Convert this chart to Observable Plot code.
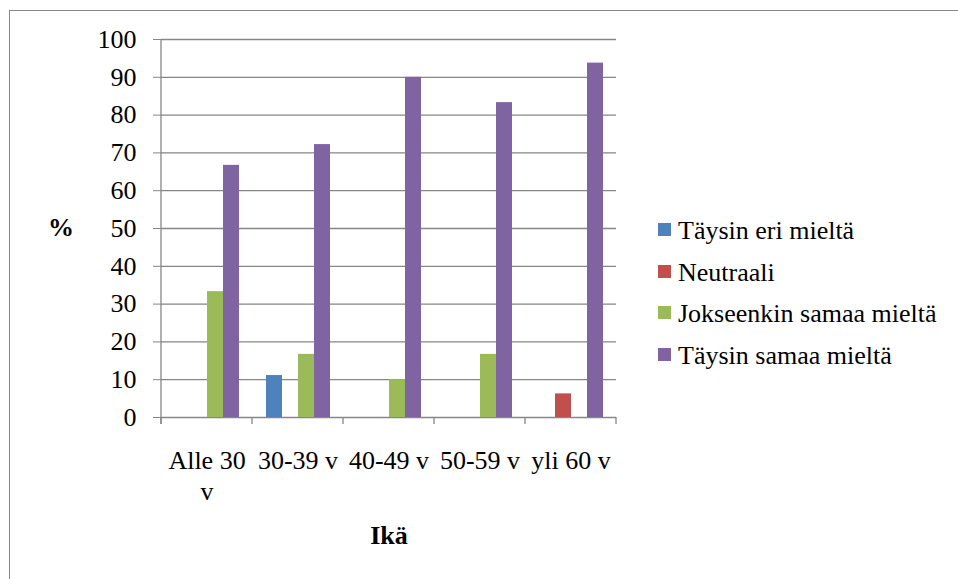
<!DOCTYPE html>
<html>
<head>
<meta charset="utf-8">
<script src="https://cdn.jsdelivr.net/npm/d3@7"></script>
<script src="https://cdn.jsdelivr.net/npm/@observablehq/plot@0.6"></script>
<style>
  html, body { margin: 0; padding: 0; background: #fff; overflow: hidden; }
  #wrap { position: relative; width: 958px; height: 579px; overflow: hidden; font-family: "Liberation Serif", "Times New Roman", serif; color: #000; }
  #border { position: absolute; left: 9px; top: 10px; width: 1000px; height: 620px; border: 1px solid #878787; box-sizing: border-box; }
  #chart { position: absolute; left: 0; top: 0; }
  #chart svg text { font-family: "Liberation Serif", "Times New Roman", serif !important; font-variant: normal !important; }
  .axis-title { position: absolute; font-size: 26px; line-height: 26px; font-weight: bold; white-space: nowrap; font-family: "Liberation Serif", serif; }
  #legend { position: absolute; left: 658px; top: 218px; font-size: 26px; line-height: 26px; font-family: "Liberation Serif", serif !important; }
  #legend .row { height: 26px; margin-bottom: 15.6px; white-space: nowrap; font-family: "Liberation Serif", serif !important; }
  #legend .row span { font-family: "Liberation Serif", serif !important; }
  #legend .sw { display: inline-block; width: 13px; height: 13px; margin-right: 7px; vertical-align: 3px; }
</style>
</head>
<body>
<div id="wrap">
  <div id="border"></div>
  <div id="chart"></div>
  <div class="axis-title" id="ytitle" style="left:48px; top:215px;">%</div>
  <div class="axis-title" id="xtitle" style="left:389px; top:523px; transform:translateX(-50%);">Ikä</div>
  <div id="legend"></div>
</div>
<script>
// ---- Data ----
const categories = ["Alle 30 v", "30-39 v", "40-49 v", "50-59 v", "yli 60 v"];
const categoryLabels = ["Alle 30\nv", "30-39 v", "40-49 v", "50-59 v", "yli 60 v"];
const series = ["Täysin eri mieltä", "Neutraali", "Jokseenkin samaa mieltä", "Täysin samaa mieltä"];
const seriesColors = ["#4F81BD", "#C0504D", "#9BBB59", "#8064A2"];
const taysinEriMielta = [0, 11.1, 0, 0, 0];
const neutraali = [0, 0, 0, 0, 6.25];
const jokseenkinSamaaMielta = [33.3, 16.7, 10.0, 16.7, 0];
const taysinSamaaMielta = [66.7, 72.2, 90.0, 83.3, 93.75];
const yTicks = [0, 10, 20, 30, 40, 50, 60, 70, 80, 90, 100];
const yTitle = "%";
const xTitle = "Ikä";

const seriesValues = [taysinEriMielta, neutraali, jokseenkinSamaaMielta, taysinSamaaMielta];
const rows = [];
categories.forEach((cat, i) => {
  series.forEach((s, j) => {
    rows.push({cat, series: s, value: seriesValues[j][i]});
  });
});
const labelRows = categories.map((cat, i) => ({cat, label: categoryLabels[i]}));

const grid = "#868686";
const serif = "'Liberation Serif', 'Times New Roman', serif";

const chart = Plot.plot({
  width: 958,
  height: 579,
  marginLeft: 161,
  marginRight: 342,
  marginTop: 39,
  marginBottom: 162,
  style: {fontFamily: serif, fontSize: "26px", background: "transparent", color: "#000", overflow: "visible"},
  fx: {domain: categories, padding: 0, axis: null},
  x: {domain: series, paddingInner: 0, paddingOuter: 0.78, axis: null},
  y: {domain: [0, 100], axis: null},
  color: {domain: series, range: seriesColors},
  marks: [
    Plot.ruleY(yTicks, {y: d => d, stroke: grid, strokeWidth: 1.3}),
    Plot.barY(rows, {fx: "cat", x: "series", y: "value", fill: "series"}),
    Plot.axisY(yTicks, {ticks: yTicks, tickSize: 8, tickPadding: 17, label: null, stroke: grid, fill: "#000", fontSize: 26, fontFamily: serif, fontVariant: "normal", tickFormat: d => String(d)}),
    Plot.text(labelRows, {fx: "cat", text: "label", frameAnchor: "bottom", lineAnchor: "top", dy: 30, lineHeight: 1.18, fontSize: 26, fontFamily: serif, fill: "#000"})
  ]
});

document.getElementById("chart").appendChild(chart);

// Axis lines and category boundary ticks drawn from Plot's own scales
const fxInfo = chart.scale("fx");
const yInfo = chart.scale("y");
const band = d3.scaleBand().domain(fxInfo.domain).range(fxInfo.range).paddingInner(0).paddingOuter(0);
const y0 = yInfo.apply ? yInfo.apply(0) : yInfo.range[0];
const y100 = yInfo.apply ? yInfo.apply(100) : yInfo.range[1];
const svg = d3.select(chart);
const g = svg.append("g").attr("stroke", grid).attr("stroke-width", 1.3);
g.append("line").attr("x1", band.range()[0]).attr("x2", band.range()[0]).attr("y1", y100).attr("y2", y0 + 7);
const bounds = band.domain().map(d => band(d)).concat([band.range()[1]]);
bounds.forEach(x => {
  g.append("line").attr("x1", x).attr("x2", x).attr("y1", y0).attr("y2", y0 + 7);
});
svg.selectAll('[aria-label="y-axis tick"] path, [aria-label="y-axis tick"] line').attr("stroke", grid);

// Legend
const legend = d3.select("#legend");
series.forEach((s, i) => {
  const r = legend.append("div").attr("class", "row");
  r.append("span").attr("class", "sw").style("background", seriesColors[i]);
  r.append("span").text(s);
});
document.getElementById("ytitle").textContent = yTitle;
document.getElementById("xtitle").textContent = xTitle;
</script>
</body>
</html>
